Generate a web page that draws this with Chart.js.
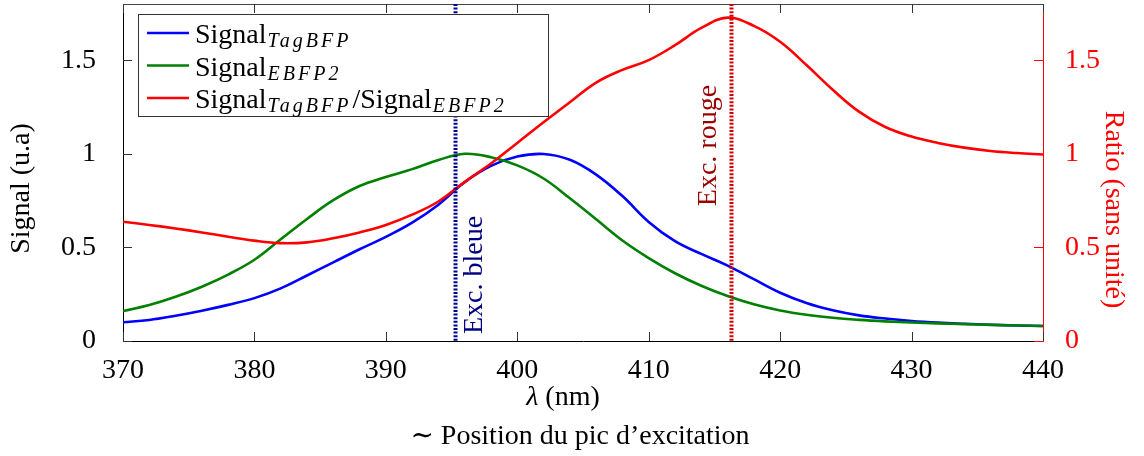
<!DOCTYPE html>
<html>
<head>
<meta charset="utf-8">
<script src="https://cdn.jsdelivr.net/npm/chart.js@4.4.0/dist/chart.umd.min.js"></script>
<style>
  html, body { margin: 0; padding: 0; background: #fff; }
  #wrap { width: 1144px; height: 456px; }
</style>
</head>
<body>
<div id="wrap"><canvas id="chart" width="1144" height="456"></canvas></div>
<script>
// values
const wavelengths = [370, 372, 374, 376, 378, 380, 382, 384, 386, 388, 390, 392, 394, 396, 398, 400, 402, 404,
  406, 408, 410, 412, 414, 416, 418, 420, 422, 424, 426, 428, 430, 432, 434, 436, 438, 440];
const tagBFP = [0.100, 0.112, 0.135, 0.162, 0.193, 0.229, 0.281, 0.350, 0.420, 0.490, 0.556, 0.632, 0.728, 0.848,
  0.935, 0.985, 0.999, 0.968, 0.889, 0.774, 0.636, 0.533, 0.465, 0.403, 0.330, 0.258, 0.203, 0.164, 0.137, 0.120,
  0.107, 0.098, 0.092, 0.087, 0.083, 0.080];
const ebfp2 = [0.160, 0.192, 0.236, 0.290, 0.355, 0.434, 0.543, 0.652, 0.752, 0.828, 0.876, 0.918, 0.967, 1.000,
  0.982, 0.938, 0.868, 0.762, 0.650, 0.537, 0.443, 0.362, 0.295, 0.240, 0.196, 0.163, 0.140, 0.124, 0.113, 0.105,
  0.099, 0.094, 0.090, 0.086, 0.083, 0.080];
const ratio = [0.637, 0.620, 0.601, 0.580, 0.557, 0.536, 0.523, 0.527, 0.549, 0.580, 0.620, 0.675, 0.745, 0.850,
  0.948, 1.058, 1.168, 1.275, 1.380, 1.448, 1.500, 1.580, 1.672, 1.727, 1.683, 1.598, 1.474, 1.342, 1.225, 1.143,
  1.092, 1.058, 1.033, 1.015, 1.004, 0.996];

const xTicks = [370, 380, 390, 400, 410, 420, 430, 440];
const yTicks = [0, 0.5, 1, 1.5];
const excWavelengths = [395.3, 416.3];
const excLabels = ["Exc. bleue", "Exc. rouge"];
// legend: [main text, subscript] pieces
const legendLabels = [
  [["Signal", "TagBFP"]],
  [["Signal", "EBFP2"]],
  [["Signal", "TagBFP"], ["/Signal", "EBFP2"]]
];
const xTitle = ["λ", " (nm)"];
const xSubTitle = "∼ Position du pic d’excitation";
const yTitle = "Signal (u.a)";
const y1Title = "Ratio (sans unité)";

const serif = '"Liberation Serif", "DejaVu Serif", serif';
const colors = ["#0000ff", "#008000", "#ff0000"];

const pts = (arr) => wavelengths.map((w, i) => ({ x: w, y: arr[i] }));

// ticks inside the frame, dotted lines, texts and legend
const decor = {
  id: "decor",
  afterDatasetsDraw(chart) {
    const { ctx, chartArea: a, scales: { x, y, y1 } } = chart;
    ctx.save();

    // top frame line
    ctx.lineWidth = 1;
    ctx.strokeStyle = "#444";
    ctx.beginPath();
    ctx.moveTo(a.left, a.top + 0.5);
    ctx.lineTo(a.right, a.top + 0.5);
    ctx.stroke();

    // inward ticks
    ctx.strokeStyle = "#333";
    ctx.beginPath();
    xTicks.forEach((v) => {
      const px = Math.round(x.getPixelForValue(v)) + 0.5;
      ctx.moveTo(px, a.bottom); ctx.lineTo(px, a.bottom - 9);
      ctx.moveTo(px, a.top); ctx.lineTo(px, a.top + 9);
    });
    yTicks.forEach((v) => {
      const py = Math.round(y.getPixelForValue(v)) + 0.5;
      ctx.moveTo(a.left, py); ctx.lineTo(a.left + 9, py);
    });
    ctx.stroke();
    ctx.strokeStyle = "#ff0000";
    ctx.beginPath();
    yTicks.forEach((v) => {
      const py = Math.round(y1.getPixelForValue(v)) + 0.5;
      ctx.moveTo(a.right - 9, py); ctx.lineTo(a.right, py);
    });
    ctx.stroke();

    // excitation lines
    const lineCols = ["#000090", "#d00000"];
    const textCols = ["#000080", "#990000"];
    ctx.lineWidth = 4;
    ctx.setLineDash([2, 1.6]);
    excWavelengths.forEach((w, i) => {
      const px = x.getPixelForValue(w);
      ctx.strokeStyle = lineCols[i];
      ctx.beginPath();
      ctx.moveTo(px, a.top);
      ctx.lineTo(px, a.bottom);
      ctx.stroke();
    });
    ctx.setLineDash([]);

    ctx.font = "28px " + serif;
    ctx.textAlign = "left";
    ctx.textBaseline = "middle";
    excWavelengths.forEach((w, i) => {
      const px = x.getPixelForValue(w);
      const tx = i === 0 ? px + 19 : px - 23;
      const ty = i === 0 ? a.bottom - 7 : y.getPixelForValue(0.72);
      ctx.save();
      ctx.translate(tx, ty);
      ctx.rotate(-Math.PI / 2);
      ctx.fillStyle = textCols[i];
      ctx.fillText(excLabels[i], 0, 0);
      ctx.restore();
    });

    // legend box
    const bx = a.left + 15, by = a.top + 10, bw = 410, bh = 102;
    ctx.fillStyle = "#fff";
    ctx.fillRect(bx, by, bw, bh);
    ctx.strokeStyle = "#333";
    ctx.lineWidth = 1;
    ctx.strokeRect(bx + 0.5, by + 0.5, bw, bh);
    legendLabels.forEach((parts, i) => {
      const ry = by + 19 + i * 32.5;
      ctx.strokeStyle = colors[i];
      ctx.lineWidth = 2.5;
      ctx.beginPath();
      ctx.moveTo(bx + 9, ry);
      ctx.lineTo(bx + 51, ry);
      ctx.stroke();
      let tx = bx + 57;
      const base = ry + 10;
      ctx.fillStyle = "#000";
      ctx.textBaseline = "alphabetic";
      parts.forEach(([main, sub]) => {
        ctx.font = "28px " + serif;
        ctx.letterSpacing = "0px";
        ctx.fillText(main, tx, base);
        tx += ctx.measureText(main).width + 1;
        ctx.font = "italic 20px " + serif;
        ctx.letterSpacing = "3px";
        ctx.fillText(sub, tx, base + 4);
        tx += ctx.measureText(sub).width + 1;
      });
      ctx.letterSpacing = "0px";
    });

    // axis titles
    const cx = (a.left + a.right) / 2;
    ctx.fillStyle = "#000";
    ctx.textBaseline = "middle";
    ctx.font = "italic 28px " + serif;
    const w1 = ctx.measureText(xTitle[0]).width;
    ctx.font = "28px " + serif;
    const w2 = ctx.measureText(xTitle[1]).width;
    let sx = cx - 20 - (w1 + w2) / 2;
    ctx.textAlign = "left";
    ctx.font = "italic 28px " + serif;
    ctx.fillText(xTitle[0], sx, a.bottom + 57);
    ctx.font = "28px " + serif;
    ctx.fillText(xTitle[1], sx + w1, a.bottom + 57);
    ctx.textAlign = "center";
    ctx.fillText(xSubTitle, cx - 3, a.bottom + 96);

    ctx.save();
    ctx.translate(a.left - 101, (a.top + a.bottom) / 2 + 16);
    ctx.rotate(-Math.PI / 2);
    ctx.fillText(yTitle, 0, 0);
    ctx.restore();

    ctx.save();
    ctx.translate(a.right + 70, (a.top + a.bottom) / 2 + 37);
    ctx.rotate(Math.PI / 2);
    ctx.fillStyle = "#ff0000";
    ctx.fillText(y1Title, 0, 0);
    ctx.restore();

    ctx.restore();
  }
};

const tickFont = { family: serif, size: 28 };
const noPad = (s) => { s.paddingTop = 0; s.paddingBottom = 0; s.paddingLeft = 0; s.paddingRight = 0; };

new Chart(document.getElementById("chart"), {
  type: "line",
  data: {
    datasets: [
      { label: "TagBFP", data: pts(tagBFP), yAxisID: "y", borderColor: colors[0], order: 3 },
      { label: "EBFP2", data: pts(ebfp2), yAxisID: "y", borderColor: colors[1], order: 2 },
      { label: "TagBFP/EBFP2", data: pts(ratio), yAxisID: "y1", borderColor: colors[2], order: 1 }
    ]
  },
  options: {
    responsive: false,
    animation: false,
    devicePixelRatio: 1,
    layout: { padding: { top: 4, left: 0, right: 0, bottom: 0 } },
    elements: {
      point: { radius: 0 },
      line: { borderWidth: 2.6, tension: 0.4, fill: false }
    },
    plugins: { legend: { display: false }, tooltip: { enabled: false } },
    scales: {
      x: {
        type: "linear", min: 370, max: 440,
        afterBuildTicks: (s) => { s.ticks = xTicks.map((v) => ({ value: v })); },
        afterFit: (s) => { s.height = 115; noPad(s); },
        grid: { display: false },
        border: { display: true, color: "#000", width: 1 },
        ticks: { font: tickFont, color: "#000", padding: 5, maxRotation: 0 }
      },
      y: {
        position: "left", min: 0, max: 1.8,
        afterBuildTicks: (s) => { s.ticks = yTicks.map((v) => ({ value: v })); },
        afterFit: (s) => { s.width = 123; noPad(s); },
        grid: { display: false },
        border: { display: true, color: "#000", width: 1 },
        ticks: { font: tickFont, color: "#000", padding: 19, callback: (v) => String(v) }
      },
      y1: {
        position: "right", min: 0, max: 1.8,
        afterBuildTicks: (s) => { s.ticks = yTicks.map((v) => ({ value: v })); },
        afterFit: (s) => { s.width = 101; noPad(s); },
        grid: { display: false },
        border: { display: true, color: "#ff0000", width: 1 },
        ticks: { font: tickFont, color: "#ff0000", padding: 14, callback: (v) => String(v) }
      }
    }
  },
  plugins: [decor]
});
</script>
</body>
</html>
